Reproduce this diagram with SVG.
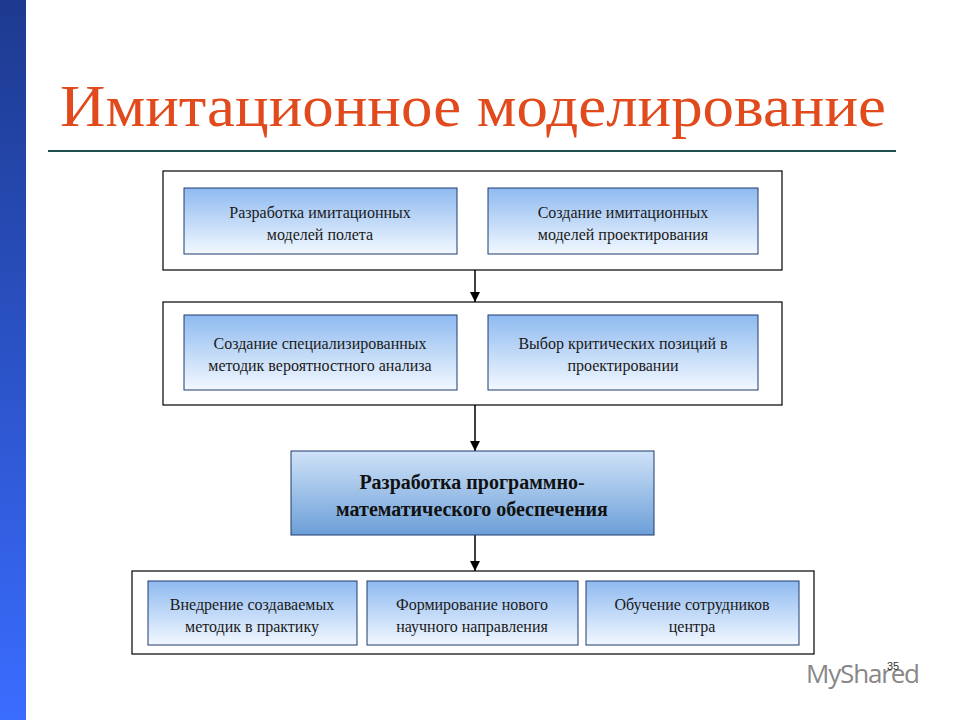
<svg xmlns="http://www.w3.org/2000/svg" width="960" height="720" viewBox="0 0 960 720">
<defs>
<linearGradient id="bar" x1="0" y1="0" x2="0" y2="1"><stop offset="0" stop-color="#1d3a8f"/><stop offset="1" stop-color="#3a6cff"/></linearGradient>
<linearGradient id="box" x1="0" y1="0" x2="0" y2="1"><stop offset="0" stop-color="#8fbaf0"/><stop offset="1" stop-color="#f2f8ff"/></linearGradient>
<linearGradient id="main" x1="0" y1="0" x2="0" y2="1"><stop offset="0" stop-color="#cfe2f8"/><stop offset="1" stop-color="#6c9fd8"/></linearGradient>
<marker id="arr" viewBox="0 0 10 10" refX="10" refY="5" markerWidth="10" markerHeight="10" markerUnits="userSpaceOnUse" orient="auto"><path d="M0,0L10,5L0,10z" fill="#000"/></marker>
<style>
.frame{fill:#fff;stroke:#000;stroke-width:1.2}
.b{fill:url(#box);stroke:#1f3a6e;stroke-width:1}
.t{font-family:"Liberation Serif",serif;font-size:16px;fill:#1a1a1a;text-anchor:middle}
.m{font-family:"Liberation Serif",serif;font-size:20px;font-weight:bold;fill:#111;text-anchor:middle}
.c{stroke:#000;stroke-width:1.5;fill:none;marker-end:url(#arr)}
</style>
</defs>
<rect width="960" height="720" fill="#fff"/>
<rect x="0" y="0" width="26" height="720" fill="url(#bar)"/>
<text x="60" y="126" font-family="Liberation Serif,serif" font-size="60" fill="#e04a1c" textLength="826" lengthAdjust="spacingAndGlyphs">Имитационное моделирование</text>
<line x1="48" y1="151" x2="896" y2="151" stroke="#1f4f4f" stroke-width="2"/>
<g id="connectors">
<line class="c" x1="475" y1="270" x2="475" y2="302"/>
<line class="c" x1="475" y1="405" x2="475" y2="451"/>
<line class="c" x1="475" y1="535" x2="475" y2="571"/>
</g>
<g id="group1"><rect class="frame" x="163" y="171" width="619" height="99"/>
<g id="n1"><rect class="b" x="184" y="188" width="273" height="66"/><text class="t" x="320" y="218">Разработка имитационных</text><text class="t" x="320" y="240">моделей полета</text></g>
<g id="n2"><rect class="b" x="488" y="188" width="270" height="66"/><text class="t" x="623" y="218">Создание имитационных</text><text class="t" x="623" y="240">моделей проектирования</text></g></g>
<g id="group2"><rect class="frame" x="163" y="302" width="619" height="103"/>
<g id="n3"><rect class="b" x="184" y="315" width="273" height="75"/><text class="t" x="320" y="349">Создание специализированных</text><text class="t" x="320" y="371">методик вероятностного анализа</text></g>
<g id="n4"><rect class="b" x="488" y="315" width="270" height="75"/><text class="t" x="623" y="349">Выбор критических позиций в</text><text class="t" x="623" y="371">проектировании</text></g></g>
<g id="n5"><rect x="291" y="451" width="363" height="84" fill="url(#main)" stroke="#1f3a6e"/><text class="m" x="472" y="489">Разработка программно-</text><text class="m" x="472" y="516">математического обеспечения</text></g>
<g id="group3"><rect class="frame" x="132" y="571" width="682" height="83"/>
<g id="n6"><rect class="b" x="148" y="581" width="209" height="64"/><text class="t" x="252" y="610">Внедрение создаваемых</text><text class="t" x="252" y="632">методик в практику</text></g>
<g id="n7"><rect class="b" x="367" y="581" width="211" height="64"/><text class="t" x="472" y="610">Формирование нового</text><text class="t" x="472" y="632">научного направления</text></g>
<g id="n8"><rect class="b" x="586" y="581" width="213" height="64"/><text class="t" x="692" y="610">Обучение сотрудников</text><text class="t" x="692" y="632">центра</text></g></g>
<text x="806" y="683" font-family="Open Sans,sans-serif" font-size="26" fill="#6a6a6a" opacity="0.8" textLength="114">MyShared</text>
<text x="887" y="670" font-family="Liberation Sans,sans-serif" font-size="11" fill="#333">35</text>
</svg>
